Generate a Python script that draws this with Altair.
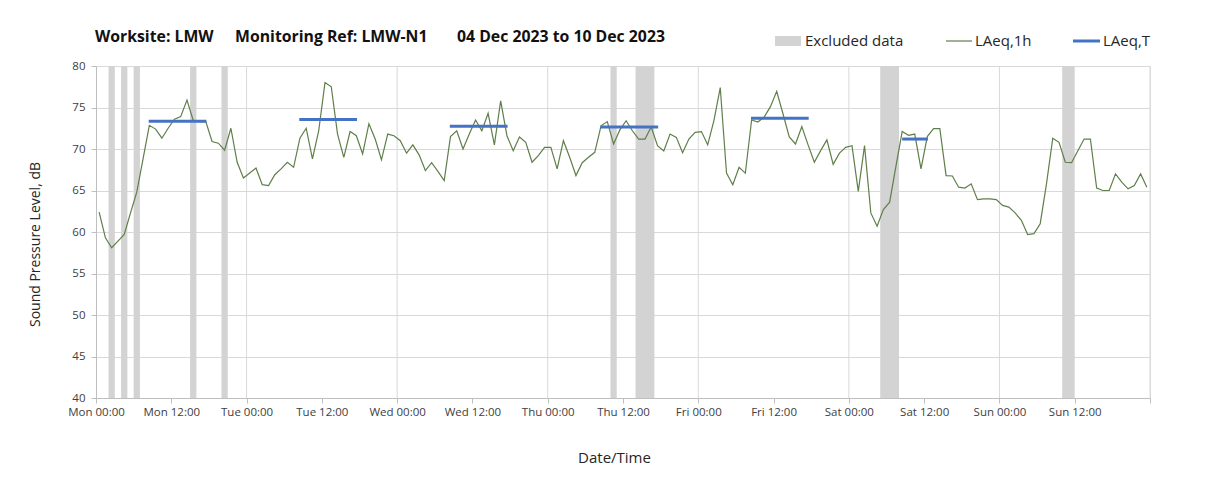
import altair as alt
import pandas as pd

# ---------------- data ----------------
day_names = ["Mon", "Tue", "Wed", "Thu", "Fri", "Sat", "Sun"]
x_tick_values = [0, 12, 24, 36, 48, 60, 72, 84, 96, 108, 120, 132, 144, 156, 168]
y_tick_values = [40, 45, 50, 55, 60, 65, 70, 75, 80]
day_boundaries = [24, 48, 72, 96, 120, 144, 168]

# hourly LAeq,1h values, one per hour of the week (plotted at mid-hour)
laeq_1h = [
    62.4, 59.3, 58.1, 58.9, 59.7, 62.3, 64.8, 68.8, 72.85, 72.4, 71.3, 72.5,
    73.6, 73.9, 75.9, 73.45, 73.3, 73.3, 70.9, 70.7, 69.85, 72.5, 68.4, 66.5,
    67.1, 67.7, 65.7, 65.6, 66.9, 67.6, 68.4, 67.8, 71.3, 72.5, 68.8, 72.2,
    78.0, 77.5, 71.8, 69.0, 72.1, 71.6, 69.4, 73.05, 71.2, 68.7, 71.8, 71.6,
    71.0, 69.5, 70.5, 69.3, 67.4, 68.35, 67.3, 66.2, 71.5, 72.2, 70.0, 71.8,
    73.5, 72.2, 74.3, 70.5, 75.8, 71.6, 69.8, 71.45, 70.8, 68.4, 69.2, 70.2,
    70.2, 67.6, 71.0, 69.0, 66.8, 68.35, 69.0, 69.6, 72.8, 73.3, 70.6, 72.3,
    73.4, 72.2, 71.2, 71.2, 72.65, 70.4, 69.75, 71.8, 71.4, 69.55, 71.2, 72.0,
    72.1, 70.5, 73.45, 77.4, 67.1, 65.7, 67.8, 67.1, 73.5, 73.25, 73.85, 75.1,
    76.95, 74.25, 71.45, 70.6, 72.7, 70.5, 68.4, 69.8, 71.1, 68.15, 69.5, 70.2,
    70.4, 64.9, 70.4, 62.3, 60.7, 62.7, 63.6, 67.9, 72.1, 71.65, 71.8, 67.6,
    71.5, 72.45, 72.45, 66.8, 66.75, 65.4, 65.3, 65.8, 63.9, 64.0, 64.0, 63.9,
    63.2, 63.0, 62.3, 61.4, 59.7, 59.8, 61.0, 65.8, 71.3, 70.8, 68.4, 68.35,
    69.8, 71.2, 71.2, 65.3, 65.0, 65.0, 67.0, 66.0, 65.2, 65.6, 67.0, 65.4,
]
hour_mid = [h + 0.5 for h in range(len(laeq_1h))]

excluded_start = [2, 4, 6, 15, 20, 82, 86, 125, 154]
excluded_end = [3, 5, 7, 16, 21, 83, 89, 128, 156]

laeqT_start = [8.4, 32.4, 56.4, 80.4, 104.4, 128.5]
laeqT_end = [17.6, 41.6, 65.6, 89.6, 113.6, 132.6]
laeqT_value = [73.35, 73.55, 72.75, 72.65, 73.7, 71.2]

title_parts = ["Worksite: LMW", "Monitoring Ref: LMW-N1", "04 Dec 2023 to 10 Dec 2023"]
legend_labels = ["Excluded data", "LAeq,1h", "LAeq,T"]

# ---------------- styling ----------------
FONT = "Open Sans"
GREEN = "#5f7f4a"
BLUE = "#4472C4"
BAR_GREY = "#d3d3d3"
GRID = "#d9d9d9"
AXIS = "#bfbfbf"
TEXT = "#404040"

W, H = 1054, 332

xs = alt.Scale(domain=[0, 168], nice=False, zero=False)
ys = alt.Scale(domain=[40, 80], nice=False, zero=False)

days_js = "[" + ",".join("'%s'" % d for d in day_names) + "]"
label_expr = (
    "datum.value >= 168 ? '' : " + days_js +
    "[floor(datum.value / 24)] + (datum.value % 24 == 0 ? ' 00:00' : ' 12:00')"
)

x_axis = alt.Axis(
    values=x_tick_values, labelExpr=label_expr, grid=False,
    domainColor=AXIS, tickColor=AXIS, tickSize=5, labelPadding=3,
    labelFont=FONT, labelFontSize=11.5, labelColor=TEXT, labelFlush=False,
    title="Date/Time", titleFont=FONT, titleFontSize=15, titleFontWeight="normal",
    titleColor="#262626", titleX=518, titleY=59, titleBaseline="middle",
    labelOverlap=False,
)
y_axis = alt.Axis(
    values=y_tick_values, grid=True, gridColor=GRID,
    domainColor=AXIS, tickColor=AXIS, tickSize=5, labelPadding=6,
    labelFont=FONT, labelFontSize=11.5, labelColor=TEXT,
    title="Sound Pressure Level, dB", titleFont=FONT, titleFontSize=14,
    titleFontWeight="normal", titleColor="#262626",
    titleX=-61, titleY=178, titleAngle=-90, titleAlign="center",
    titleBaseline="middle",
)

df_line = pd.DataFrame({"hour": hour_mid, "laeq": laeq_1h})
df_excl = pd.DataFrame({"start": excluded_start, "end": excluded_end})
df_T = pd.DataFrame({"start": laeqT_start, "end": laeqT_end, "value": laeqT_value})
df_days = pd.DataFrame({"h": day_boundaries})

bars = alt.Chart(df_excl).mark_rect(color=BAR_GREY).encode(
    x=alt.X("start:Q", scale=xs, axis=x_axis),
    x2="end:Q",
)

vgrid = alt.Chart(df_days).mark_rule(color=GRID, strokeWidth=1).encode(
    x=alt.X("h:Q", scale=xs),
)

line = alt.Chart(df_line).mark_line(color=GREEN, strokeWidth=1.2).encode(
    x=alt.X("hour:Q", scale=xs, axis=x_axis),
    y=alt.Y("laeq:Q", scale=ys, axis=y_axis),
)

laeqT = alt.Chart(df_T).mark_rule(color=BLUE, strokeWidth=3).encode(
    x=alt.X("start:Q", scale=xs),
    x2="end:Q",
    y=alt.Y("value:Q", scale=ys),
)

# ---------- title (header line) ----------
df_title = pd.DataFrame({"t": title_parts, "px": [-1, 139, 361]})
title_txt = alt.Chart(df_title).mark_text(
    font=FONT, fontSize=15.8, fontWeight="bold", color="#111111",
    align="left", baseline="middle",
).encode(
    text="t:N",
    x=alt.X("px:Q", scale=None),
    y=alt.value(-29),
)

# ---------- legend ----------
df_leg = pd.DataFrame({"label": legend_labels, "px": [709, 879, 1007]})
leg_text = alt.Chart(df_leg).mark_text(
    font=FONT, fontSize=15, color="#262626", align="left", baseline="middle",
).encode(text="label:N", x=alt.X("px:Q", scale=None), y=alt.value(-25))

leg_rect = alt.Chart(df_leg.iloc[[0]]).mark_rect(color=BAR_GREY).encode(
    x=alt.value(679), x2=alt.value(705), y=alt.value(-30), y2=alt.value(-20)
)
leg_line1 = alt.Chart(df_leg.iloc[[1]]).mark_rule(color=GREEN, strokeWidth=1.2).encode(
    x=alt.value(850), x2=alt.value(876), y=alt.value(-25)
)
leg_line2 = alt.Chart(df_leg.iloc[[2]]).mark_rule(color=BLUE, strokeWidth=3).encode(
    x=alt.value(977), x2=alt.value(1004), y=alt.value(-25)
)

chart = alt.layer(
    bars, vgrid, line, laeqT, title_txt, leg_text, leg_rect, leg_line1, leg_line2
).properties(
    width=W, height=H,
    autosize=alt.AutoSizeParams(type="none"),
    padding={"left": 88, "top": 58, "right": 50, "bottom": 86},
).configure_view(
    stroke=AXIS, strokeWidth=1,
).configure(background="white")

chart.save("out.html", embed_options={"renderer": "svg", "actions": False})
